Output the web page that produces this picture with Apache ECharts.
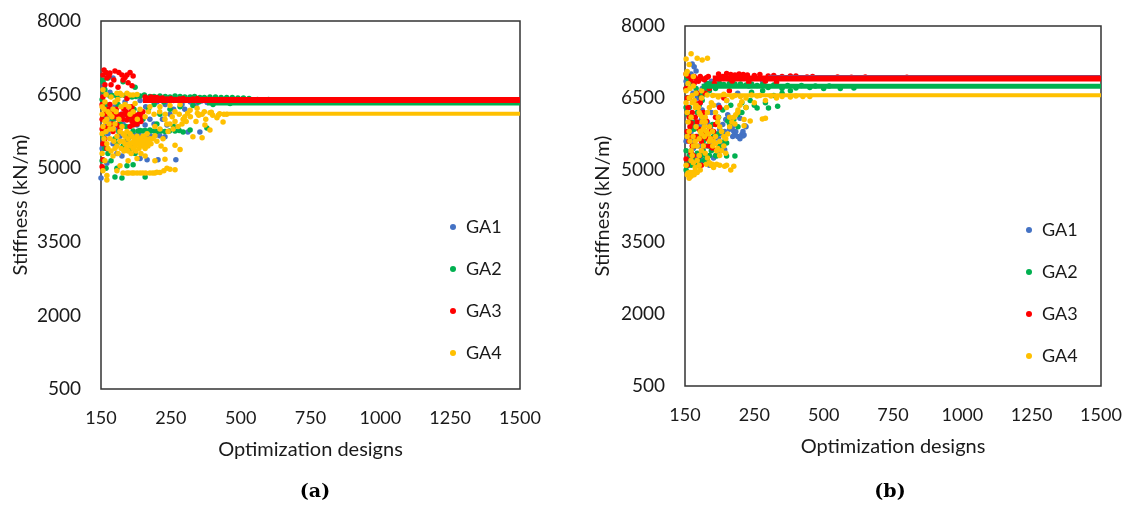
<!DOCTYPE html>
<html><head><meta charset="utf-8">
<script src="https://cdn.jsdelivr.net/npm/echarts@6/dist/echarts.min.js"></script>
<style>html,body{margin:0;padding:0;background:#fff}#c{width:1129px;height:506px}</style>
</head><body><div id="c"></div>
<script>
const seriesNames = ['GA1', 'GA2', 'GA3', 'GA4'];
const seriesColors = ['#4472C4', '#00B050', '#FF0000', '#FFC000'];
const xTickLabels = ['150', '250', '500', '750', '1000', '1250', '1500'];
const yTickValues = [500, 2000, 3500, 5000, 6500, 8000];
const panelLetters = ['a', 'b'];

// ---- Panel (a): early scattered designs [design, stiffness] ----
const ga1CloudA = [[25,6920],[43,6840],[32,6550],[7,6350],[14,6050],[25,5700],[43,5500],[68,5650],[93,5680],[122,5660],[150,5650],[193,5660],[229,5640],[129,5880],[236,5880],[311,5740],[354,5740],[165,5170],[204,5170],[268,5170],[0,4800],[57,5300],[79,5900],[111,6200],[175,6000],[247,6100],[300,6200],[340,6300],[380,6340],[4,5400],[21,5100],[50,6250],[86,6350],[140,6380],[200,6350],
  [11,6650],[18,6500],[36,6200],[46,6000],[61,5800],[72,6100],[90,5550],[100,5700],[108,5650],[115,5700],[136,5680],[165,5660],[179,5650],[210,5660],[18,5850],[29,6000],[54,5450],[75,5250],[158,5880],[190,5900],[220,6000],[260,6200],[290,6300],[140,5200],[120,5450],[160,6250],[230,6300],[320,6350],[360,6370]];
const ga2CloudA = [[7,6800],[25,6840],[7,6760],[79,6760],[122,6650],[14,6600],[4,6400],[32,6470],[57,6460],[86,6480],[111,6450],[140,6470],[175,6460],[211,6470],[247,6450],[283,6460],[319,6450],[354,6440],[390,6450],[430,6440],[470,6440],[510,6430],[560,6400],[660,6370],[115,5760],[140,5770],[165,5750],[193,5760],[229,5750],[265,5760],[294,5740],[175,5780],[319,5780],[379,5820],[21,6200],[43,6000],[68,5900],[93,5650],[57,5500],[25,5300],[4,5150],[14,5400],[104,5400],[122,5300],[50,4820],[75,4800],[158,4820],[115,5070],[57,5000],[97,5600],[150,6000],[211,6100],[247,6200],[283,6250],[329,6280],[401,6300],[462,6320],
  [40,6480],[70,6490],[100,6470],[125,6460],[155,6490],[190,6460],[230,6460],[265,6470],[300,6450],[335,6460],[370,6440],[410,6450],[450,6440],[490,6430],[530,6420],[600,6400],[11,6550],[18,6300],[29,6100],[36,5800],[50,5600],[64,5750],[79,5450],[90,5850],[108,6000],[125,5900],[133,5760],[150,5760],[158,5770],[179,5760],[200,5750],[215,5760],[245,5760],[280,5770],[61,6300],[82,6100],[118,6200],[140,6150],[170,6200],[190,6300],[225,6350],[260,6380],[300,6380],[350,6350],[18,5000],[36,5150],[93,5050],[7,5650],[200,5900],[260,5850]];
const ga3CloudA = [[11,7000],[32,6940],[50,6980],[75,6900],[93,6900],[115,6880],[79,6800],[97,6740],[111,6680],[21,6840],[14,6700],[7,6450],[4,6300],[25,6200],[43,6150],[57,6100],[68,6050],[79,6000],[86,6100],[93,5980],[104,6060],[111,5950],[122,6000],[129,5900],[140,6020],[57,5880],[68,5800],[43,5750],[14,5600],[7,5500],[4,5030],[7,5170],[25,5850],[32,6300],[111,6250],[150,6150],[158,6450],[175,6430],[193,6440],[211,6420],[236,6410],[265,6400],[294,6420],[329,6410],[379,6400],[430,6395],
  [7,6900],[18,6950],[29,6880],[36,6700],[46,6800],[64,6950],[86,6850],[104,6950],[61,6650],[93,6420],[100,6250],[108,6150],[115,6100],[118,6000],[125,6080],[133,5980],[136,6100],[143,5950],[147,6050],[122,5920],[115,5880],[104,5850],[97,6050],[90,6150],[82,6200],[75,6100],[64,6000],[54,6200],[46,6050],[39,5900],[36,6100],[18,6100],[11,5800],[21,5400],[4,5800],[4,6000],[14,6200],[165,6420],[180,6450],[200,6440],[220,6430],[250,6420],[280,6410],[310,6400],[345,6420]];
const ga4CloudA = [[57,6530],[75,6490],[93,6530],[115,6490],[7,6600],[4,6250],[14,6350],[21,6000],[32,6100],[43,6200],[50,5900],[57,5650],[68,5750],[79,5550],[86,5500],[97,5600],[104,5450],[111,5520],[122,5560],[129,5500],[140,5480],[150,5450],[165,5520],[175,5600],[193,5660],[211,5800],[236,5900],[265,5950],[294,6000],[319,6180],[344,6220],[362,6100],[390,6130],[415,6030],[437,5940],[372,5880],[329,5640],[362,5620],[390,5780],[283,5380],[265,5470],[247,5900],[229,5380],[4,5300],[14,5150],[7,4950],[21,4850],[25,5400],[43,5250],[11,5600],[32,5800],[4,5700],[79,4900],[93,4900],[111,4900],[129,4900],[150,4900],[175,4900],[193,4900],[211,4910],[236,5000],[247,4980],[265,4970],[57,4950],[21,4760],[68,5050],[97,5150],[129,5200],[158,5250],[193,5150],[229,5180],[104,6100],[140,6200],[175,6250],[211,6250],[247,6280],[283,6300],[86,6300],[50,6350],[122,6320],[158,6050],[193,5850],[229,6000],[265,6150],[300,6050],[340,5950],[420,6080],[450,6100],
  [4,6100],[7,5850],[11,6200],[14,5950],[18,5750],[21,5500],[25,6150],[29,5900],[32,5600],[36,5350],[39,6050],[43,5800],[46,5550],[50,5400],[54,6150],[57,5450],[61,5300],[64,6000],[68,5550],[72,5400],[75,5850],[79,5700],[82,5350],[86,5650],[90,5400],[93,5750],[97,5350],[100,5500],[104,5700],[108,5300],[111,5650],[115,5400],[118,5600],[122,5450],[125,5350],[129,5650],[133,5550],[136,5400],[140,5600],[143,5300],[147,5550],[150,5650],[154,5500],[158,5400],[161,5600],[165,5700],[168,5450],[172,5550],[179,5500],[186,5600],[200,5550],[215,5450],[222,5600],[240,5750],[258,5800],[276,5850],[290,5900],[305,5950],[320,6050],[350,6080],[375,6000],[400,6080],[425,6110],[440,6100],[395,6140],[370,6150],[345,6120],[310,6120],[280,6100],[255,6050],[230,6100],[210,6150],[190,6100],[170,6150],[130,6000],[115,6150],[100,6250],[72,6250],[60,6400],[36,6450],[18,6500],[100,4900],[118,4900],[140,4900],[160,4900],[185,4900],[200,4920],[225,4950],[68,6530],[104,6490],[129,6500]];
// converged level of each GA in panel (a): design where it settles, stiffness
const plateauStartA = [330, 380, 150, 450];
const plateauValueA = [6380, 6330, 6390, 6110];

// ---- Panel (b) ----
const ga1CloudB = [[26,7210],[33,7150],[40,7060],[22,7000],[15,6950],[4,6850],[11,6700],[29,6600],[44,6500],[55,6400],[62,6250],[70,6100],[81,6000],[91,5900],[99,5800],[110,5700],[121,5650],[132,5750],[143,5800],[161,5850],[176,5800],[180,5750],[198,6080],[205,5740],[209,5710],[213,5730],[216,5920],[172,5700],[143,5420],[136,5560],[70,5650],[51,5500],[22,5400],[11,5200],[4,5600],[33,5900],[62,5350],[88,5100],[95,6200],[121,6350],[150,6450],[190,6600],[230,6750],[280,6850],[330,6900],
  [8,6500],[15,6300],[18,6100],[22,5800],[26,5600],[30,5450],[37,5300],[44,5700],[51,5900],[59,6050],[66,5950],[73,5800],[81,5700],[88,5600],[95,5500],[103,5650],[114,5750],[125,5850],[136,5950],[147,6050],[154,6150],[161,6000],[172,5900],[183,5800],[190,5700],[198,5650],[209,5800],[220,5900],[48,6600],[62,6700],[77,6800],[95,6850],[120,6880],[160,6900],[200,6920],[250,6930],[37,5100],[59,5200],[103,5250],[125,5400]];
const ga2CloudB = [[7,6920],[15,6850],[26,6800],[40,6700],[55,6550],[62,6450],[4,6300],[11,6150],[22,6000],[33,5850],[48,5700],[66,5600],[81,5500],[95,5400],[114,5290],[150,5290],[180,5290],[154,6020],[191,5900],[150,5560],[99,5950],[121,6100],[136,6250],[165,6350],[205,6400],[235,6450],[260,6290],[301,6290],[334,6330],[15,5300],[4,5000],[44,5100],[70,5200],[88,6650],[110,6700],[140,6780],[180,6790],[220,6770],[260,6760],[300,6720],[350,6700],[400,6710],[450,6720],[500,6700],[560,6700],[609,6710],[240,6620],[280,6650],
  [4,6700],[8,6500],[15,6300],[18,6100],[26,5900],[30,5700],[37,5500],[44,5350],[51,5200],[59,5300],[66,5400],[73,5300],[81,5200],[88,5300],[4,5400],[8,5200],[11,5100],[22,5100],[33,5200],[37,6000],[44,6200],[51,6350],[62,6550],[73,6700],[81,6800],[95,6790],[125,6800],[160,6800],[200,6790],[240,6790],[280,6780],[320,6770],[370,6760],[420,6760],[470,6750],[520,6750],[103,5700],[118,5750],[132,5800],[143,5600],[125,5500],[110,5300],[161,5950],[176,6050],[190,6150],[205,6200],[220,6300],[250,6350],[290,6400],[320,6550],[350,6600],[380,6650]];
const ga3CloudB = [[4,7000],[11,6960],[22,6880],[33,6800],[44,6600],[55,6400],[66,6200],[77,6020],[95,5810],[99,5460],[51,5290],[4,5230],[22,5980],[40,5700],[70,5500],[88,5900],[110,6100],[125,6300],[140,6500],[160,6650],[15,6500],[26,6200],[33,5500],[59,5100],[8,5100],[121,7000],[150,7010],[180,6980],[210,6990],[250,6970],[300,6960],[350,6950],[400,6960],[440,6940],[500,6920],[600,6930],[700,6920],[170,6850],[230,6830],[290,6850],[330,6830],
  [4,6700],[8,6500],[11,6300],[15,6100],[18,5900],[22,5700],[26,5500],[30,5300],[33,6950],[40,6900],[48,6850],[55,6950],[62,6900],[70,6880],[77,6920],[84,6950],[8,5800],[15,5600],[22,5350],[37,6100],[44,6000],[51,5850],[59,5600],[66,5700],[73,5800],[81,5650],[88,5500],[95,5650],[103,5800],[110,5950],[37,6400],[48,6300],[59,6500],[73,6600],[88,6700],[106,6800],[136,6950],[165,6990],[195,7000],[225,6980],[270,6990],[320,6970],[380,6960],[460,6950],[550,6940],[650,6940],[800,6930]];
const ga4CloudB = [[22,7420],[4,7310],[44,7330],[62,7290],[81,7330],[15,7200],[8,7050],[30,6950],[4,6650],[15,6500],[26,6400],[37,6300],[51,6200],[62,6100],[73,6000],[88,5900],[99,5800],[110,5700],[125,5600],[140,5500],[22,6100],[40,5900],[55,5800],[70,5700],[88,5600],[100,5500],[114,5400],[125,5300],[4,5100],[11,4940],[15,4830],[22,4870],[33,4900],[44,4950],[55,5000],[77,5120],[99,5120],[114,5120],[143,5080],[176,5080],[51,5100],[22,5200],[30,5500],[8,5700],[279,6060],[290,6080],[235,6020],[213,5920],[180,5960],[161,6100],[190,6200],[220,6300],[250,6400],[290,6450],[330,6500],[380,6520],[425,6530],[60,6500],[100,6550],[140,6580],[180,6550],[220,6500],[260,6540],[150,6300],[120,6100],
  [4,7000],[11,6800],[18,6700],[26,6550],[33,6450],[40,6350],[48,6300],[55,6150],[62,6000],[70,5900],[77,5800],[84,5750],[92,5650],[103,5600],[110,5550],[118,5450],[132,5400],[147,5350],[4,6400],[8,6200],[11,6000],[15,5800],[18,5600],[22,5400],[26,5300],[30,5150],[37,5050],[44,5200],[51,5300],[59,5400],[66,5500],[73,5350],[81,5250],[88,5150],[95,5100],[103,5050],[125,5100],[150,5100],[165,5000],[8,4900],[18,4950],[26,4950],[37,4980],[29,5700],[37,5600],[44,5500],[51,5650],[59,5750],[66,5850],[73,6100],[81,6200],[88,6300],[95,6400],[103,6350],[110,6200],[118,6000],[125,5900],[132,5800],[140,5700],[147,5650],[154,5750],[161,5900],[169,6000],[176,6100],[183,6150],[191,6250],[198,6350],[205,6420],[213,6050],[150,6450],[170,6520],[200,6530],[240,6560],[270,6550],[310,6540],[350,6530],[400,6540],[450,6530],[120,6520],[80,6560],[40,6600],[60,6650],[30,6750]];
const plateauStartB = [300, 60, 100, 100];
const plateauValueB = [6940, 6745, 6905, 6555];

const cloudsA = [ga1CloudA, ga2CloudA, ga3CloudA, ga4CloudA];
const cloudsB = [ga1CloudB, ga2CloudB, ga3CloudB, ga4CloudB];
const plateauWidths = [4, 5, 6, 4];

const FONT = 'Lato, "Open Sans", sans-serif';
const textColor = '#1a1a1a';

function xAxisFor(gi) {
  return {
    type: 'value', gridIndex: gi, min: 0, max: 1500, interval: 250,
    axisLine: { show: false }, axisTick: { show: false }, splitLine: { show: false },
    axisLabel: {
      margin: 20, color: textColor, fontFamily: FONT, fontSize: 18,
      showMinLabel: true, showMaxLabel: true, hideOverlap: false,
      formatter: v => xTickLabels[Math.round(v / 250)]
    },
    name: 'Optimization designs', nameLocation: 'middle', nameGap: 51,
    nameTextStyle: { color: textColor, fontFamily: FONT, fontSize: 20 }
  };
}
function yAxisFor(gi, gap) {
  return {
    type: 'value', gridIndex: gi, min: yTickValues[0], max: yTickValues[yTickValues.length - 1], interval: 1500,
    axisLine: { show: false }, axisTick: { show: false }, splitLine: { show: false },
    axisLabel: { margin: 20, color: textColor, fontFamily: FONT, fontSize: 19, formatter: v => String(v) },
    name: 'Stiffness (kN/m)', nameLocation: 'middle', nameGap: gap,
    nameTextStyle: { color: textColor, fontFamily: FONT, fontSize: 20 }
  };
}

const series = [];
[cloudsA, cloudsB].forEach((clouds, p) => {
  const starts = p === 0 ? plateauStartA : plateauStartB;
  const vals = p === 0 ? plateauValueA : plateauValueB;
  seriesNames.forEach((name, i) => {
    series.push({
      name, type: 'line', xAxisIndex: p, yAxisIndex: p, symbol: 'none', silent: true,
      data: [[starts[i], vals[i]], [1500, vals[i]]],
      lineStyle: { color: seriesColors[i], width: plateauWidths[i] }
    });
    series.push({
      name, type: 'scatter', xAxisIndex: p, yAxisIndex: p, symbolSize: 5.5, silent: true,
      data: clouds[i], itemStyle: { color: seriesColors[i], opacity: 1 }
    });
  });
});

const legendData = seriesNames.map((n, i) => ({ name: n, icon: 'circle', itemStyle: { color: seriesColors[i] } }));
function legendAt(left, top) {
  return {
    orient: 'vertical', left, top, itemWidth: 6, itemHeight: 6, itemGap: 22, selectedMode: false,
    data: legendData,
    textStyle: { color: textColor, fontFamily: FONT, fontSize: 18, lineHeight: 20, padding: [0, 0, 0, 5] }
  };
}
const titleRich = {
  p: { fontFamily: '"DejaVu Serif", serif', fontSize: 19, color: '#000' },
  b: { fontFamily: '"DejaVu Serif", serif', fontSize: 19, fontWeight: 'bold', color: '#000' }
};

const option = {
  animation: false,
  backgroundColor: '#fff',
  title: [
    { text: '{p|(}{b|' + panelLetters[0] + '}{p|)}', left: 310, top: 478, textAlign: 'center', textStyle: { rich: titleRich } },
    { text: '{p|(}{b|' + panelLetters[1] + '}{p|)}', left: 885, top: 478, textAlign: 'center', textStyle: { rich: titleRich } }
  ],
  grid: [
    { left: 101, top: 21, width: 419, height: 368, show: true, borderColor: '#333', borderWidth: 1.5, backgroundColor: 'transparent' },
    { left: 685, top: 26, width: 416, height: 360, show: true, borderColor: '#333', borderWidth: 1.5, backgroundColor: 'transparent' }
  ],
  xAxis: [xAxisFor(0), xAxisFor(1)],
  yAxis: [yAxisFor(0, 70), yAxisFor(1, 72)],
  legend: [legendAt(445, 212), legendAt(1021, 215)],
  series
};
const chart = echarts.init(document.getElementById('c'), null, { renderer: 'canvas' });
chart.setOption(option);
</script>
</body></html>
